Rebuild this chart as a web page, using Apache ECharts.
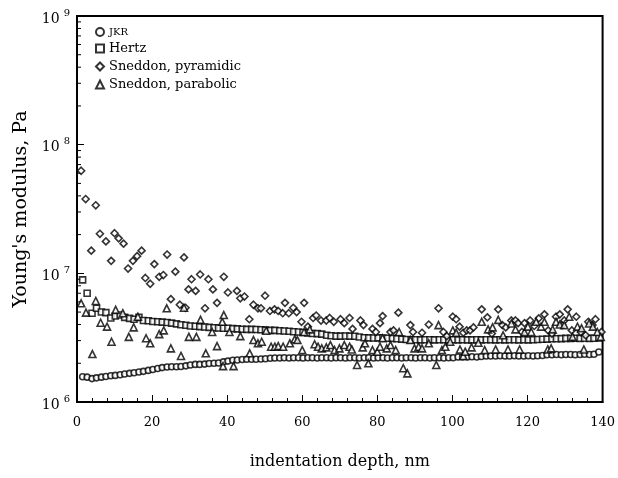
<!DOCTYPE html>
<html>
<head>
<meta charset="utf-8">
<script src="https://cdn.jsdelivr.net/npm/echarts@6/dist/echarts.min.js"></script>
<style>
    html, body { margin: 0; padding: 0; background: #fff; }
    #chart { width: 618px; height: 478px; }
</style>
</head>
<body>
<div id="chart"></div>
<script>
// values, modulus in MPa (converted to Pa below)
var MPA = 1e6;

var depth = [
    1.5, 2.7, 4.0, 5.2, 6.5, 7.7, 9.0, 10.2, 11.5, 12.7,
    14.0, 15.2, 16.5, 17.7, 19.0, 20.2, 21.5, 22.7, 24.0, 25.2,
    26.5, 27.7, 29.0, 30.2, 31.5, 32.7, 34.0, 35.2, 36.5, 37.7,
    39.0, 40.2, 41.5, 42.7, 44.0, 45.2, 46.5, 47.7, 49.0, 50.2,
    51.5, 52.7, 54.0, 55.2, 56.5, 57.7, 59.0, 60.2, 61.5, 62.7,
    64.0, 65.2, 66.5, 67.7, 69.0, 70.2, 71.5, 72.7, 74.0, 75.2,
    76.5, 77.7, 79.0, 80.2, 81.5, 82.7, 84.0, 85.2, 86.5, 87.7,
    89.0, 90.2, 91.5, 92.7, 94.0, 95.2, 96.5, 97.7, 99.0, 100.2,
    101.5, 102.7, 104.0, 105.2, 106.5, 107.7, 109.0, 110.2, 111.5, 112.7,
    114.0, 115.2, 116.5, 117.7, 119.0, 120.2, 121.5, 122.7, 124.0, 125.2,
    126.5, 127.7, 129.0, 130.2, 131.5, 132.7, 134.0, 135.2, 136.5, 137.7,
    139.0
];

var jkr = [
    1.57, 1.56, 1.52, 1.54, 1.56, 1.58, 1.60, 1.61, 1.63, 1.65,
    1.67, 1.69, 1.71, 1.73, 1.76, 1.79, 1.82, 1.85, 1.87, 1.88,
    1.88, 1.89, 1.91, 1.94, 1.96, 1.96, 1.97, 1.99, 2.00, 2.01,
    2.05, 2.08, 2.11, 2.12, 2.14, 2.15, 2.15, 2.15, 2.16, 2.17,
    2.19, 2.20, 2.20, 2.21, 2.20, 2.21, 2.21, 2.20, 2.21, 2.21,
    2.20, 2.21, 2.21, 2.20, 2.21, 2.21, 2.20, 2.21, 2.21, 2.20,
    2.21, 2.21, 2.20, 2.21, 2.21, 2.20, 2.21, 2.21, 2.20, 2.21,
    2.21, 2.20, 2.21, 2.21, 2.20, 2.21, 2.21, 2.20, 2.21, 2.21,
    2.24, 2.24, 2.24, 2.25, 2.24, 2.26, 2.28, 2.28, 2.28, 2.29,
    2.28, 2.28, 2.29, 2.28, 2.28, 2.29, 2.28, 2.29, 2.30, 2.33,
    2.33, 2.34, 2.33, 2.34, 2.34, 2.33, 2.34, 2.35, 2.34, 2.35,
    2.45
];

var hertz = [
    8.90, 7.00, 4.90, 5.35, 5.00, 4.95, 4.50, 4.66, 4.74, 4.55,
    4.47, 4.40, 4.55, 4.30, 4.28, 4.22, 4.20, 4.18, 4.15, 4.10,
    4.05, 3.98, 3.95, 3.90, 3.88, 3.85, 3.83, 3.80, 3.78, 3.76,
    3.74, 3.74, 3.72, 3.70, 3.68, 3.67, 3.67, 3.66, 3.64, 3.62,
    3.60, 3.60, 3.58, 3.56, 3.55, 3.52, 3.50, 3.47, 3.44, 3.41,
    3.40, 3.37, 3.30, 3.27, 3.25, 3.25, 3.26, 3.25, 3.24, 3.20,
    3.16, 3.15, 3.14, 3.15, 3.14, 3.13, 3.12, 3.10, 3.08, 3.06,
    3.05, 3.05, 3.04, 3.05, 3.05, 3.04, 3.05, 3.05, 3.04, 3.05,
    3.04, 3.05, 3.04, 3.04, 3.05, 3.04, 3.05, 3.05, 3.04, 3.05,
    3.04, 3.05, 3.05, 3.04, 3.05, 3.04, 3.05, 3.06, 3.07, 3.08,
    3.10, 3.10, 3.11, 3.12, 3.12, 3.13, 3.12, 3.13, 3.12, 3.13,
    3.14
];

var pyrDepth = [
    1.1, 2.3, 3.8, 5.0, 6.1, 7.7, 9.1, 10.0, 11.1, 12.4,
    13.6, 14.9, 16.0, 17.2, 18.2, 19.5, 20.6, 21.9, 23.0, 24.0,
    25.0, 26.2, 27.4, 28.5, 28.9, 29.7, 30.5, 31.6, 32.8, 34.1,
    35.0, 36.2, 37.3, 39.1, 40.2, 42.6, 43.5, 44.6, 45.9, 47.0,
    48.2, 49.0, 50.1, 51.4, 52.6, 53.6, 54.8, 55.4, 56.4, 57.6,
    58.5, 59.8, 60.5, 61.5, 62.9, 63.7, 65.0, 66.4, 67.3, 68.4,
    70.2, 71.2, 72.6, 73.4, 75.5, 76.3, 78.7, 79.6, 80.7, 81.4,
    83.5, 84.3, 85.6, 88.8, 89.5, 91.9, 93.7, 96.3, 97.6, 98.5,
    100.1, 101.0, 101.9, 102.9, 103.8, 104.7, 105.6, 107.8, 109.3, 110.5,
    112.2, 113.3, 114.2, 115.7, 116.8, 117.5, 118.5, 119.2, 120.7, 121.8,
    123.0, 124.5, 125.5, 126.5, 127.6, 128.6, 129.2, 129.8, 130.7, 131.8,
    133.0, 134.2, 135.5, 136.2, 137.3, 138.1, 139.7
];
var pyramidic = [
    62.7, 37.8, 15.0, 33.8, 20.3, 17.7, 12.5, 20.5, 18.7, 17.0,
    10.9, 12.5, 13.6, 15.0, 9.2, 8.3, 11.8, 9.4, 9.7, 14.0,
    6.3, 10.3, 5.7, 13.3, 5.4, 7.5, 9.0, 7.3, 9.8, 5.35,
    9.0, 7.5, 5.9, 9.4, 7.1, 7.3, 6.4, 6.6, 4.4, 5.7,
    5.35, 5.35, 6.7, 5.1, 5.25, 5.1, 4.9, 5.9, 4.9, 5.4,
    5.0, 4.2, 5.9, 3.85, 4.5, 4.7, 4.3, 4.3, 4.5, 4.2,
    4.4, 4.1, 4.5, 3.7, 4.3, 3.96, 3.7, 3.5, 4.1, 4.65,
    3.5, 3.6, 4.95, 3.96, 3.5, 3.45, 4.0, 5.35, 3.5, 3.25,
    4.6, 4.4, 3.85, 3.45, 3.6, 3.6, 3.8, 5.25, 4.55, 3.4,
    5.25, 3.96, 3.8, 4.3, 4.3, 4.1, 3.5, 4.1, 4.3, 3.9,
    4.47, 4.8, 3.6, 3.4, 4.6, 4.8, 3.96, 4.3, 5.25, 3.6,
    4.6, 3.5, 3.3, 4.2, 3.96, 4.4, 3.5
];

var parDepth = [
    1.1, 2.4, 4.1, 5.0, 6.3, 8.0, 9.2, 10.3, 12.2, 13.8,
    15.1, 16.2, 18.4, 19.5, 21.9, 23.1, 23.9, 25.0, 27.7, 28.5,
    29.8, 31.8, 32.9, 34.3, 36.0, 37.3, 38.7, 38.9, 39.1, 40.6,
    41.7, 43.5, 46.0, 47.0, 48.2, 49.2, 50.4, 51.7, 52.7, 53.6,
    54.9, 56.7, 58.0, 58.7, 60.0, 60.5, 62.0, 63.3, 64.2, 65.2,
    66.4, 67.5, 68.6, 69.9, 71.2, 72.6, 73.2, 74.6, 76.1, 76.7,
    77.6, 78.7, 80.0, 80.7, 81.4, 82.5, 83.5, 84.9, 85.8, 86.9,
    88.0, 88.8, 89.9, 91.0, 91.9, 93.7, 95.7, 96.3, 97.2, 98.1,
    99.4, 100.1, 101.0, 102.0, 102.9, 103.4, 105.1, 106.9, 107.8, 108.6,
    109.5, 110.7, 111.5, 112.2, 113.5, 114.8, 115.7, 116.8, 117.9, 119.2,
    120.1, 121.0, 122.3, 123.6, 124.5, 125.4, 126.3, 126.7, 127.6, 128.6,
    129.8, 131.1, 132.0, 133.3, 134.4, 135.0, 136.4, 137.4, 138.6, 139.5
];
var parabolic = [
    5.85, 4.95, 2.36, 6.1, 4.13, 3.85, 2.94, 5.2, 4.9, 3.21,
    3.8, 4.6, 3.13, 2.86, 3.37, 3.6, 5.35, 2.61, 2.28, 5.4,
    3.21, 3.21, 4.35, 2.39, 3.5, 2.72, 4.2, 1.9, 4.74, 3.5,
    1.9, 3.25, 2.39, 3.03, 2.86, 2.94, 3.58, 2.69, 2.69, 2.72,
    2.69, 2.86, 3.07, 3.03, 2.53, 3.5, 3.67, 2.81, 2.69, 2.61,
    2.66, 2.77, 2.53, 2.61, 2.77, 2.69, 2.56, 1.94, 2.66, 2.86,
    2.0, 2.53, 2.46, 2.69, 3.13, 2.61, 2.77, 2.53, 3.5, 1.83,
    1.67, 3.03, 2.61, 2.69, 2.61, 2.86, 1.94, 3.96, 2.53, 2.69,
    2.94, 3.6, 3.45, 2.56, 2.28, 2.46, 2.66, 2.89, 4.2, 2.53,
    3.67, 3.8, 2.56, 4.35, 3.3, 2.56, 4.08, 3.67, 2.56, 3.5,
    3.85, 3.5, 4.2, 3.85, 4.2, 2.56, 2.61, 3.67, 4.2, 4.0,
    3.96, 4.6, 3.21, 3.85, 3.74, 2.56, 4.08, 3.85, 3.5, 3.21
];

// log minor ticks 2..9 in each decade
var yMinorTicks = [
    2e6, 3e6, 4e6, 5e6, 6e6, 7e6, 8e6, 9e6,
    2e7, 3e7, 4e7, 5e7, 6e7, 7e7, 8e7, 9e7,
    2e8, 3e8, 4e8, 5e8, 6e8, 7e8, 8e8, 9e8
];

var FONT = 'DejaVu Serif';

function pairs(xs, ys) {
    return xs.map(function(x, i) {
        return [x, ys[i] * MPA];
    });
}

function markerSeries(name, symbol, size, data) {
    return {
        name: name,
        type: 'scatter',
        symbol: symbol,
        symbolSize: size,
        data: data,
        itemStyle: {
            color: '#fff',
            borderColor: '#000',
            borderWidth: 1.6
        },
        emphasis: {disabled: true}
    };
}

var chart = echarts.init(document.getElementById('chart'), null, {renderer: 'canvas'});

var option = {
    animation: false,
    backgroundColor: '#fff',
    textStyle: {fontFamily: FONT, color: '#000'},
    grid: {
        left: 77,
        right: 11,
        top: 16,
        bottom: 76,
        show: true,
        borderColor: '#000',
        borderWidth: 2,
        backgroundColor: 'transparent'
    },
    legend: {
        orient: 'vertical',
        left: 90,
        top: 22,
        itemWidth: 8,
        itemHeight: 8,
        itemGap: 5,
        itemTextGap: 13,
        selectedMode: false,
        textStyle: {fontFamily: FONT, fontSize: 13, color: '#000'},
        data: [
            {name: 'JKR', textStyle: {fontSize: 10}},
            {name: 'Hertz'},
            {name: 'Sneddon, pyramidic'},
            {name: 'Sneddon, parabolic'}
        ]
    },
    xAxis: {
        type: 'value',
        min: 0,
        max: 140,
        interval: 20,
        name: 'indentation depth, nm',
        nameLocation: 'middle',
        nameGap: 52,
        nameTextStyle: {fontFamily: FONT, fontSize: 16, color: '#000'},
        splitLine: {show: false},
        axisLine: {lineStyle: {color: '#000', width: 2}},
        axisTick: {inside: true, length: 7, lineStyle: {color: '#000', width: 1}},
        minorTick: {show: true, splitNumber: 5, length: 4, lineStyle: {color: '#000', width: 1}},
        axisLabel: {margin: 14, fontFamily: FONT, fontSize: 13, color: '#000'}
    },
    yAxis: {
        type: 'log',
        logBase: 10,
        min: 1e6,
        max: 1e9,
        name: "Young's modulus, Pa",
        nameLocation: 'middle',
        nameGap: 44,
        nameRotate: 90,
        nameTextStyle: {fontFamily: FONT, fontSize: 19, color: '#000'},
        splitLine: {show: false},
        axisLine: {lineStyle: {color: '#000', width: 2}},
        axisTick: {inside: true, length: 7, lineStyle: {color: '#000', width: 1}},
        axisLabel: {
            margin: 7,
            formatter: function(v) {
                return '{b|10}{s|' + Math.round(Math.log10(v)) + '}';
            },
            rich: {
                b: {fontFamily: FONT, fontSize: 14, color: '#000', padding: [6, 0, 0, 0]},
                s: {fontFamily: FONT, fontSize: 10, color: '#000', padding: [0, 0, 6, 4]}
            }
        }
    },
    series: [
        markerSeries('JKR', 'circle', 6, pairs(depth, jkr)),
        markerSeries('Hertz', 'rect', 6, pairs(depth, hertz)),
        markerSeries('Sneddon, pyramidic', 'diamond', 7, pairs(pyrDepth, pyramidic)),
        markerSeries('Sneddon, parabolic', 'triangle', 7, pairs(parDepth, parabolic)),
        {
            // minor log ticks on the left axis, placed via the axis scale
            type: 'custom',
            silent: true,
            data: yMinorTicks.map(function(v) { return [0, v]; }),
            renderItem: function(params, api) {
                var p = api.coord([0, api.value(1)]);
                return {
                    type: 'line',
                    shape: {x1: p[0], y1: p[1], x2: p[0] + 4, y2: p[1]},
                    style: {stroke: '#000', lineWidth: 1}
                };
            }
        }
    ]
};

chart.setOption(option);
</script>
</body>
</html>
